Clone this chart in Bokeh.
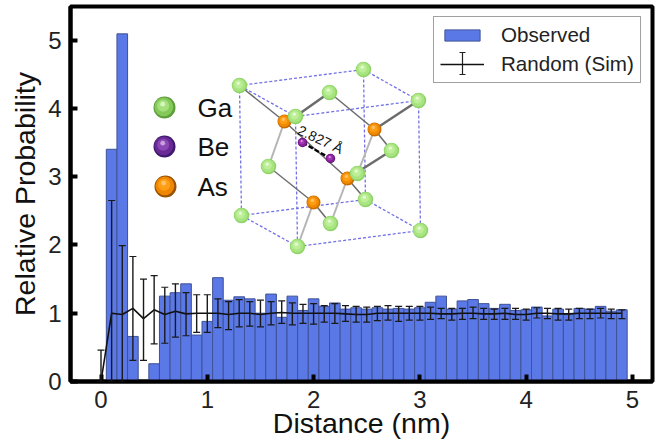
from bokeh.embed import file_html
from bokeh.resources import INLINE
from bokeh.plotting import figure
from bokeh.core.properties import value
from bokeh.models import (ColumnDataSource, FixedTicker, Legend, LegendItem, Range1d,
                          TeeHead, Whisker, LinearAxis)

# ---- chart data ----
bar_x = [round(0.1 * i, 1) for i in range(1, 50)]
observed = [3.40, 5.09, 0.66, 0.00, 0.26, 1.25, 1.30, 1.43, 0.68, 0.88,
            1.52, 1.19, 1.24, 1.21, 1.00, 1.28, 0.94, 1.25, 1.04, 1.21,
            1.10, 1.15, 1.06, 1.08, 1.06, 1.08, 1.06, 1.07, 1.06, 1.08,
            1.16, 1.25, 1.06, 1.18, 1.20, 1.14, 1.07, 1.13, 1.04, 1.05,
            1.09, 0.96, 1.06, 0.98, 1.07, 1.06, 1.10, 1.03, 1.05]
sim_x = [round(0.1 * i, 1) for i in range(0, 50)]
sim_mean = [0.00, 1.00, 0.98, 1.07, 0.92, 1.05, 0.98, 1.03, 0.99, 1.00,
            1.00, 1.00, 0.98, 1.00, 1.00, 0.98, 1.00, 1.01, 1.00, 1.00,
            1.00, 1.00, 1.00, 0.99, 0.98, 0.98, 1.00, 1.00, 1.00, 1.00,
            1.00, 1.00, 0.99, 0.99, 1.00, 1.00, 0.99, 0.99, 1.00, 0.98,
            0.98, 1.00, 1.00, 0.99, 0.99, 1.00, 1.00, 1.00, 1.00, 1.00]
sim_upper = [0.46, 2.65, 1.99, 1.83, 1.50, 1.55, 1.38, 1.43, 1.30, 1.27,
             1.27, 1.21, 1.17, 1.20, 1.17, 1.19, 1.17, 1.18, 1.15, 1.13,
             1.14, 1.11, 1.14, 1.11, 1.10, 1.09, 1.10, 1.11, 1.10, 1.10,
             1.10, 1.09, 1.07, 1.07, 1.07, 1.09, 1.07, 1.06, 1.07, 1.07,
             1.06, 1.08, 1.07, 1.07, 1.06, 1.07, 1.06, 1.07, 1.06, 1.05]
sim_lower = [0.00, 0.00, 0.00, 0.31, 0.31, 0.55, 0.56, 0.65, 0.67, 0.72,
             0.72, 0.79, 0.76, 0.80, 0.81, 0.80, 0.83, 0.85, 0.83, 0.85,
             0.84, 0.87, 0.85, 0.88, 0.87, 0.87, 0.89, 0.90, 0.88, 0.90,
             0.90, 0.91, 0.92, 0.90, 0.91, 0.92, 0.91, 0.91, 0.91, 0.91,
             0.90, 0.93, 0.92, 0.90, 0.90, 0.92, 0.92, 0.93, 0.92, 0.92]
x_ticks = [0, 1, 2, 3, 4, 5]
y_ticks = [0, 1, 2, 3, 4, 5]
x_title = "Distance (nm)"
y_title = "Relative Probability"

# ---- inset: crystal cell drawn in its own picture-scale coordinates ----
ga_x = [239, 363, 418, 329, 268, 391, 365, 241, 330, 420, 297]
ga_y = [85, 69, 100, 92, 166, 150, 199, 215, 223, 230, 246]
ga_front_x = [295, 357]
ga_front_y = [116, 173]
as_x = [284, 374, 347, 313]
as_y = [121, 129, 178, 202]
be_x = [302, 330]
be_y = [142, 158]
cube_x0 = [239, 363, 418, 295, 241, 365, 420, 297, 239, 418, 295, 363]
cube_y0 = [85, 69, 100, 116, 215, 199, 230, 246, 85, 100, 116, 69]
cube_x1 = [363, 418, 295, 239, 365, 420, 297, 241, 241, 420, 297, 365]
cube_y1 = [69, 100, 116, 85, 199, 230, 246, 215, 215, 230, 246, 199]
bond_x0 = [239, 284, 329, 374, 374, 347, 347, 313, 313, 295]
bond_y0 = [85, 121, 92, 129, 129, 178, 178, 202, 202, 116]
bond_x1 = [284, 347, 374, 418, 391, 391, 365, 268, 330, 329]
bond_y1 = [121, 178, 129, 100, 150, 150, 199, 166, 223, 92]
bond_w = [1.5, 1.5, 1.5, 2.5, 1.5, 2.5, 1.5, 1.5, 1.5, 2.5]
pale_x0 = [284, 374, 347, 313]
pale_y0 = [121, 129, 178, 202]
pale_x1 = [268, 357, 330, 297]
pale_y1 = [166, 173, 223, 246]

W, H = 657, 441
L, R, T, B = 70, 652, 6, 381
PX_PER_X, PX_PER_Y = 106.3, 68.3
X0, Y0 = 100.5, 381

p = figure(width=W, height=H, output_backend="svg", toolbar_location=None,
           x_range=Range1d((L - X0) / PX_PER_X, (R - X0) / PX_PER_X),
           y_range=Range1d(0, (Y0 - T) / PX_PER_Y),
           min_border_left=L, min_border_right=W - R, min_border_top=T, min_border_bottom=H - B,
           x_axis_location="below", y_axis_location="left", background_fill_color="white",
           border_fill_color="white")
p.grid.visible = False
p.outline_line_color = "black"
p.outline_line_width = 4
p.outline_line_alpha = 1

p.extra_x_ranges["px"] = Range1d(L, R)
p.extra_y_ranges["px"] = Range1d(B, T)

for ax, ticks, title in ((p.xaxis[0], x_ticks, x_title), (p.yaxis[0], y_ticks, y_title)):
    ax.ticker = FixedTicker(ticks=ticks)
    ax.axis_label = title
    ax.axis_label_text_font = "Liberation Sans"
    ax.axis_label_text_font_style = "normal"
    ax.axis_label_text_font_size = "28.5px"
    ax.axis_label_text_color = "#111111"
    ax.major_label_text_font = "Liberation Sans"
    ax.major_label_text_font_size = "24px"
    ax.major_label_text_color = "#222222"
    ax.axis_line_color = "black"
    ax.axis_line_width = 4
    ax.major_tick_line_color = "black"
    ax.major_tick_line_width = 4
    ax.major_tick_in = 7
    ax.major_tick_out = 0
    ax.minor_tick_line_color = None
p.xaxis[0].major_label_standoff = 9
p.yaxis[0].major_label_standoff = 9
p.xaxis[0].axis_label_standoff = -4
p.xaxis[0].axis_label_text_baseline = "top"
p.yaxis[0].axis_label_standoff = 4
p.yaxis[0].major_label_orientation = "horizontal"

src = ColumnDataSource(dict(x=sim_x, m=sim_mean, u=sim_upper, l=sim_lower))
bars = p.vbar(x=bar_x, top=observed, width=0.1, bottom=0, fill_color="#5a78e6",
              line_color="#3f5296", line_width=1)
line = p.line("x", "m", source=src, line_color="#111111", line_width=1.6)
p.add_layout(Whisker(source=src, base="x", upper="u", lower="l", level="annotation",
                     line_color="#1a1a1a", line_width=1.4,
                     upper_head=TeeHead(size=7, line_color="#1a1a1a", line_width=1.2),
                     lower_head=TeeHead(size=7, line_color="#1a1a1a", line_width=1.2)))

R_ = dict(x_range_name="px", y_range_name="px")

# cube, bonds
p.segment(cube_x0, cube_y0, cube_x1, cube_y1, line_color="#7272e6", line_width=1.3, line_dash="3 2", **R_)
p.segment(pale_x0, pale_y0, pale_x1, pale_y1, line_color="#b5b5b5", line_width=2, **R_)
p.segment(bond_x0, bond_y0, bond_x1, bond_y1, line_color="#6b6b6b", line_width=bond_w, **R_)
p.segment(be_x[0], be_y[0], be_x[1], be_y[1], line_color="black", line_width=2.4, line_dash="5 2", **R_)


def balls(xs, ys, size, rim, body, light, shine):
    p.scatter(xs, ys, size=size, fill_color=rim, line_color=None, **R_)
    p.scatter([x - size * 0.03 for x in xs], [y - size * 0.03 for y in ys], size=size * 0.86,
              fill_color=body, line_color=None, **R_)
    p.scatter([x - size * 0.06 for x in xs], [y - size * 0.08 for y in ys], size=size * 0.55,
              fill_color=light, line_color=None, **R_)
    p.scatter([x - size * 0.08 for x in xs], [y - size * 0.15 for y in ys], size=size * 0.22,
              fill_color=shine, line_color=None, **R_)


GA = ("#8fd268", "#a8e480", "#bdee98", "#e4fad2")
AS = ("#c96c00", "#f08a00", "#ff9d14", "#ffc469")
BE = ("#5a1a78", "#8a1f9a", "#a43ab4", "#d8a0e0")
balls(ga_x, ga_y, 15.5, *GA)
balls(as_x, as_y, 14, *AS)
balls(be_x, be_y, 9.5, *BE)
balls(ga_front_x, ga_front_y, 15.5, *GA)

# key of the inset
key_x = [164, 164, 165]
key_y = [107, 146, 186]
key_names = ["Ga", "Be", "As"]
balls(key_x[:1], key_y[:1], 22, "#5f9e3c", "#84c95a", "#a4e07c", "#d6f5bf")
balls(key_x[1:2], key_y[1:2], 22, "#3e1a6e", "#6a2a96", "#8a48b4", "#c8a0de")
balls(key_x[2:], key_y[2:], 22, "#9a5200", "#ef8600", "#ff9d14", "#ffc469")
p.text([197, 197, 197], key_y, text=key_names, text_font=value("Liberation Sans"),
       text_font_size=value("26px"), text_baseline="middle", text_color="#111111", **R_)
p.text([320], [139], text=["2.827 Å"], angle=[-25], angle_units="deg", text_font=value("Liberation Sans"),
       text_font_size=value("14px"), text_align="center", text_baseline="middle", text_color="#111111", **R_)

# legend
legend = Legend(items=[LegendItem(label="Observed", renderers=[bars]),
                       LegendItem(label="Random (Sim)", renderers=[line])],
                location=(433 - L, B - 83), orientation="vertical",
                background_fill_alpha=0, border_line_color="#444444", border_line_width=1,
                glyph_width=44, glyph_height=14, label_standoff=17, padding=6, spacing=5, margin=0,
                label_text_font="Liberation Sans", label_text_font_size="20.6px", label_text_color="#222222")
p.add_layout(legend)
p.segment([462], [52], [462], [74], line_color="#222222", line_width=1.2, **R_)
p.segment([459, 459], [52, 74], [465, 465], [52, 74], line_color="#222222", line_width=1.2, **R_)

open("out.html", "w").write(file_html(p, INLINE))
